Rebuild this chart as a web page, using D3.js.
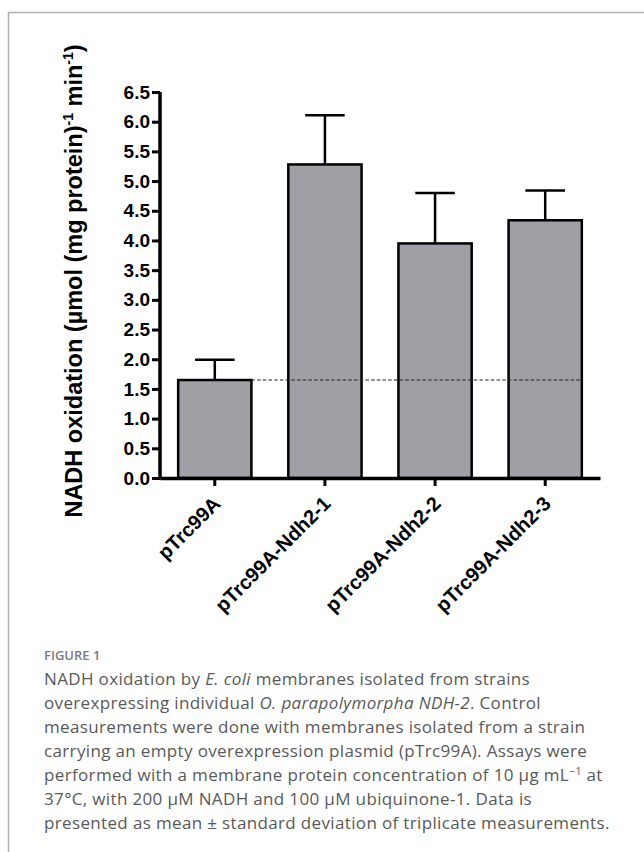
<!DOCTYPE html>
<html>
<head>
<meta charset="utf-8">
<script src="https://cdn.jsdelivr.net/npm/d3@7"></script>
<style>
  body { margin: 0; background: #fff; }
  svg { display: block; }
</style>
</head>
<body>
<div id="chart"></div>
<script>
// values
const strains = ["pTrc99A", "pTrc99A-Ndh2-1", "pTrc99A-Ndh2-2", "pTrc99A-Ndh2-3"];
const rates = [1.65, 5.28, 3.95, 4.34];
const sds = [0.34, 0.83, 0.85, 0.50];
const yTicks = [0, 0.5, 1, 1.5, 2, 2.5, 3, 3.5, 4, 4.5, 5, 5.5, 6, 6.5];
const controlLevel = rates[0];

const captionLines = [
    [["NADH oxidation by ", 0], ["E. coli", 1], [" membranes isolated from strains", 0]],
    [["overexpressing individual ", 0], ["O. parapolymorpha NDH-2", 1], [". Control", 0]],
    [["measurements were done with membranes isolated from a strain", 0]],
    [["carrying an empty overexpression plasmid (pTrc99A). Assays were", 0]],
    [["performed with a membrane protein concentration of 10 \u00b5g mL", 0], ["\u22121", 2], [" at", 3]],
    [["37\u00b0C, with 200 \u00b5M NADH and 100 \u00b5M ubiquinone-1. Data is", 0]],
    [["presented as mean \u00b1 standard deviation of triplicate measurements.", 0]]
];

const W = 644, H = 852;
const svg = d3.select("#chart").append("svg").attr("width", W).attr("height", H);

// card frame
svg.append("path")
    .attr("d", "M8.5," + H + "V12.5H" + W)
    .attr("fill", "none").attr("stroke", "#b0b0b0").attr("stroke-width", 1.5);

const x = d3.scaleBand().domain(strains).range([160, 600])
    .paddingInner(0.335).paddingOuter(0.165);
const y = d3.scaleLinear().domain([0, 6.5]).range([478, 92]);

const g = svg.append("g");

// bars
g.selectAll("rect.bar").data(strains).join("rect")
    .attr("class", "bar")
    .attr("x", d => x(d))
    .attr("y", (d, i) => y(rates[i]))
    .attr("width", x.bandwidth())
    .attr("height", (d, i) => y(0) - y(rates[i]))
    .attr("fill", "#a09fa5")
    .attr("stroke", "#000").attr("stroke-width", 2.5);

// error bars (upper only)
const cx = d => x(d) + x.bandwidth() / 2;
const capW = x.bandwidth() * 0.54;
g.selectAll("line.err").data(strains).join("line")
    .attr("x1", cx).attr("x2", cx)
    .attr("y1", (d, i) => y(rates[i]))
    .attr("y2", (d, i) => y(rates[i] + sds[i]))
    .attr("stroke", "#000").attr("stroke-width", 2.5);
g.selectAll("line.cap").data(strains).join("line")
    .attr("x1", d => cx(d) - capW / 2).attr("x2", d => cx(d) + capW / 2)
    .attr("y1", (d, i) => y(rates[i] + sds[i]))
    .attr("y2", (d, i) => y(rates[i] + sds[i]))
    .attr("stroke", "#000").attr("stroke-width", 2.5);

// control level
g.append("line")
    .attr("x1", x(strains[0]) + x.bandwidth())
    .attr("x2", x(strains[3]) + x.bandwidth())
    .attr("y1", y(controlLevel)).attr("y2", y(controlLevel))
    .attr("stroke", "#222").attr("stroke-width", 1.2)
    .attr("stroke-dasharray", "3.5,2.2");

// y axis
const yAxis = g.append("g")
    .attr("transform", "translate(160,0)")
    .call(d3.axisLeft(y).tickValues(yTicks).tickFormat(d3.format(".1f"))
        .tickSize(8).tickSizeOuter(0).tickPadding(2));
yAxis.select(".domain").attr("stroke-width", 3.5).attr("d", "M0," + (y(0) + 1.5) + "V" + y(6.5));
yAxis.selectAll(".tick line").attr("stroke-width", 3);
yAxis.selectAll(".tick text")
    .attr("font-family", "Liberation Sans, Arial, sans-serif")
    .attr("font-weight", "bold").attr("font-size", 19).attr("fill", "#000");

// x axis
const xAxis = g.append("g")
    .attr("transform", "translate(0," + y(0) + ")")
    .call(d3.axisBottom(x).tickSize(8).tickSizeOuter(0));
xAxis.select(".domain").attr("stroke-width", 3.5);
xAxis.selectAll(".tick line").attr("stroke-width", 3);
xAxis.selectAll(".tick text")
    .attr("font-family", "Liberation Sans, Arial, sans-serif")
    .attr("font-weight", "bold").attr("font-size", 20).attr("fill", "#000")
    .attr("text-anchor", "end")
    .attr("transform", "translate(2,22) rotate(-45)")
    .attr("dy", "0.35em").attr("y", 0).attr("x", 0);

// y axis title
const yt = svg.append("text")
    .attr("transform", "translate(82,281) rotate(-90)")
    .attr("text-anchor", "middle")
    .attr("font-family", "Liberation Sans, Arial, sans-serif")
    .attr("font-weight", "bold").attr("font-size", 23.5).attr("fill", "#000");
yt.append("tspan").text("NADH oxidation (\u00b5mol (mg protein)");
yt.append("tspan").attr("font-size", 14).attr("dy", -9).text("-1");
yt.append("tspan").attr("dy", 9).text(" min");
yt.append("tspan").attr("font-size", 14).attr("dy", -9).text("-1");
yt.append("tspan").attr("dy", 9).text(")");

// caption
svg.append("text")
    .attr("x", 44).attr("y", 660)
    .attr("font-family", "Open Sans, Lato, sans-serif")
    .attr("font-weight", 600).attr("font-size", 13).attr("fill", "#7a7a7a")
    .text("FIGURE 1");

const cap = svg.append("text")
    .attr("font-family", "Open Sans, Lato, sans-serif")
    .attr("font-size", 17).attr("letter-spacing", 0.35).attr("fill", "#595959");
captionLines.forEach((parts, li) => {
    const baseY = 685 + li * 24;
    parts.forEach(([t, style], k) => {
        const ts = cap.append("tspan").text(t);
        if (k === 0) ts.attr("x", 44).attr("y", baseY);
        if (style === 1) ts.attr("font-style", "italic");
        if (style === 2) ts.attr("font-size", 10.5).attr("dy", -6);
        if (style === 3) ts.attr("dy", 6);
    });
});
</script>
</body>
</html>
